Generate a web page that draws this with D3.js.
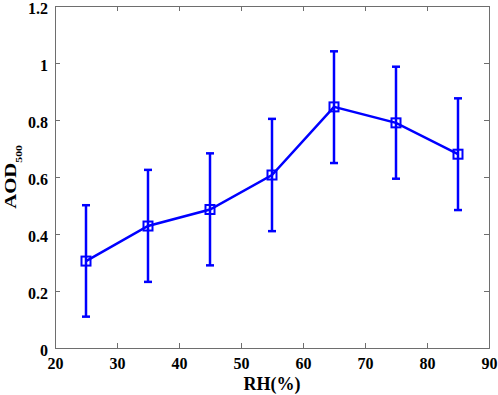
<!DOCTYPE html>
<html>
<head>
<meta charset="utf-8">
<script src="https://cdn.jsdelivr.net/npm/d3@7"></script>
<style>
  body { margin: 0; background: #fff; }
  text { font-family: "Liberation Serif", "Times New Roman", serif; font-weight: bold; fill: #000; }
</style>
</head>
<body>
<div id="chart"></div>
<script>
// Data
const rh = [25, 35, 45, 55, 65, 75, 85];
const aod = [0.305, 0.428, 0.486, 0.607, 0.846, 0.790, 0.680];
const aodLow = [0.110, 0.232, 0.290, 0.410, 0.649, 0.594, 0.484];
const aodHigh = [0.501, 0.625, 0.683, 0.804, 1.041, 0.987, 0.876];
const xTicks = [20, 30, 40, 50, 60, 70, 80, 90];
const yTicks = [0, 0.2, 0.4, 0.6, 0.8, 1, 1.2];

const data = rh.map((r, i) => ({ rh: r, aod: aod[i], lo: aodLow[i], hi: aodHigh[i] }));

const W = 498, H = 395;
const margin = { top: 6, right: 9, bottom: 47, left: 55 };
const width = W - margin.left - margin.right;
const height = H - margin.top - margin.bottom;

const svg = d3.select('#chart')
    .append('svg')
    .attr('width', W)
    .attr('height', H);

const g = svg.append('g')
    .attr('transform', `translate(${margin.left},${margin.top})`);

const xScale = d3.scaleLinear().domain([20, 90]).range([0, width]);
const yScale = d3.scaleLinear().domain([0, 1.2]).range([height, 0]);

const axisColor = '#6e6e6e';

// Axes with inward ticks
const axisB = g.append('g')
    .attr('transform', `translate(0,${height})`)
    .call(d3.axisBottom(xScale).tickValues(xTicks).tickSize(-5).tickPadding(10).tickFormat(d3.format('d')));
const axisL = g.append('g')
    .call(d3.axisLeft(yScale).tickValues(yTicks).tickSize(-5).tickPadding(7).tickFormat(d => d === 0 ? '0' : d3.format('~g')(d)));
const axisT = g.append('g')
    .call(d3.axisTop(xScale).tickValues(xTicks).tickSize(-5).tickFormat(''));
const axisR = g.append('g')
    .attr('transform', `translate(${width},0)`)
    .call(d3.axisRight(yScale).tickValues(yTicks).tickSize(-5).tickFormat(''));

[axisB, axisL, axisT, axisR].forEach(a => {
    a.select('.domain').attr('stroke', axisColor).attr('stroke-width', 1);
    a.selectAll('.tick line').attr('stroke', axisColor);
    a.selectAll('.tick text')
        .style('font-size', '16px')
        .attr('fill', '#000');
});
// y labels sit a little below their ticks in the original
axisL.selectAll('.tick text').attr('dy', '0.45em');

// Error bars
const capHalf = 4;
const eb = g.selectAll('.err')
    .data(data)
    .enter()
    .append('g')
    .attr('class', 'err')
    .attr('stroke', '#0000ff')
    .attr('stroke-width', 2.5);

eb.append('line')
    .attr('x1', d => xScale(d.rh)).attr('x2', d => xScale(d.rh))
    .attr('y1', d => yScale(d.lo)).attr('y2', d => yScale(d.hi));
eb.append('line')
    .attr('x1', d => xScale(d.rh) - capHalf).attr('x2', d => xScale(d.rh) + capHalf)
    .attr('y1', d => yScale(d.hi)).attr('y2', d => yScale(d.hi));
eb.append('line')
    .attr('x1', d => xScale(d.rh) - capHalf).attr('x2', d => xScale(d.rh) + capHalf)
    .attr('y1', d => yScale(d.lo)).attr('y2', d => yScale(d.lo));

// Mean line
const line = d3.line().x(d => xScale(d.rh)).y(d => yScale(d.aod));
g.append('path')
    .datum(data)
    .attr('fill', 'none')
    .attr('stroke', '#0000ff')
    .attr('stroke-width', 2.5)
    .attr('d', line);

// Square markers
const ms = 9;
g.selectAll('.marker')
    .data(data)
    .enter()
    .append('rect')
    .attr('class', 'marker')
    .attr('x', d => xScale(d.rh) - ms / 2)
    .attr('y', d => yScale(d.aod) - ms / 2)
    .attr('width', ms)
    .attr('height', ms)
    .attr('fill', 'none')
    .attr('stroke', '#0000ff')
    .attr('stroke-width', 2);

// Axis labels
svg.append('text')
    .attr('x', margin.left + width / 2)
    .attr('y', 390)
    .attr('text-anchor', 'middle')
    .style('font-size', '18px')
    .text('RH(%)');

// the original y label is stretched along its length
const yl = svg.append('text')
    .attr('transform', `translate(16,${margin.top + height / 2}) rotate(-90) scale(1.3,1)`)
    .attr('text-anchor', 'middle')
    .style('font-size', '16px');
yl.append('tspan').text('AOD');
yl.append('tspan').attr('dy', 6).style('font-size', '9px').text('500');
</script>
</body>
</html>
